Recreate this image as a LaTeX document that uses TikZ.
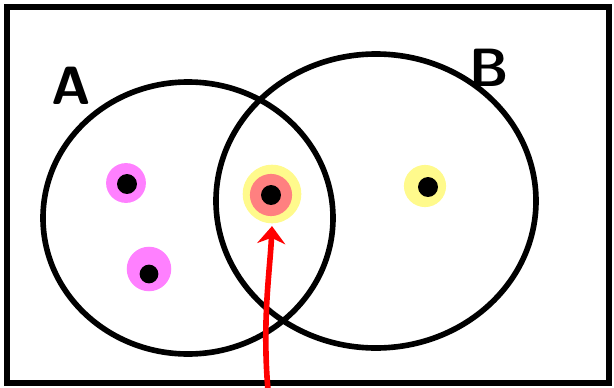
\documentclass[tikz,border=0pt]{standalone}
\usetikzlibrary{arrows.meta}

\definecolor{hlpink}{RGB}{255,128,255}
\definecolor{hlyellow}{RGB}{255,250,140}
\definecolor{hlsalmon}{RGB}{255,128,128}

\tikzset{
  halo/.style={circle, inner sep=0pt},
  blob/.style={circle, fill=black, inner sep=0pt, minimum size=17pt},
  setlabel/.style={font=\fontsize{46}{46}\selectfont\sffamily\bfseries},
}

\begin{document}
\begin{tikzpicture}[x=0.03cm, y=-0.03cm, line width=4.8pt]

\useasboundingbox (0,0) rectangle (614,387);

% frame
\draw (7,7) rectangle (609,383);

% the two sets
\draw (188,218) ellipse [x radius=145, y radius=136];
\draw (376,201) ellipse [x radius=160, y radius=147];

\node[setlabel] (labA) at (71,86) {A};
\node[setlabel] (labB) at (489,68) {B};

% elements of A only
\node[halo, fill=hlpink, minimum size=34pt] (pa1) at (126,183) {};
\node[blob] (ea1) at (127,184) {};
\node[halo, fill=hlpink, minimum size=38pt] (pa2) at (149,269) {};
\node[blob, minimum size=16pt] (ea2) at (149,274) {};

% element of B only
\node[halo, fill=hlyellow, minimum size=36pt] (pb) at (425,186) {};
\node[blob] (eb) at (428,187) {};

% element of A and B
\node[halo, fill=hlyellow, minimum size=50pt] (ab) at (272,194) {};
\node[halo, fill=hlsalmon, minimum size=36pt] (abin) at (271,195) {};
\node[blob] (eab) at (271,195) {};

% pointer
\coordinate (foot) at (268,390);
\draw[red, -{Stealth[length=15pt, width=24pt, inset=5pt]}]
    (foot) .. controls (262,320) and (270,270) .. (ab.south);

\end{tikzpicture}
\end{document}
